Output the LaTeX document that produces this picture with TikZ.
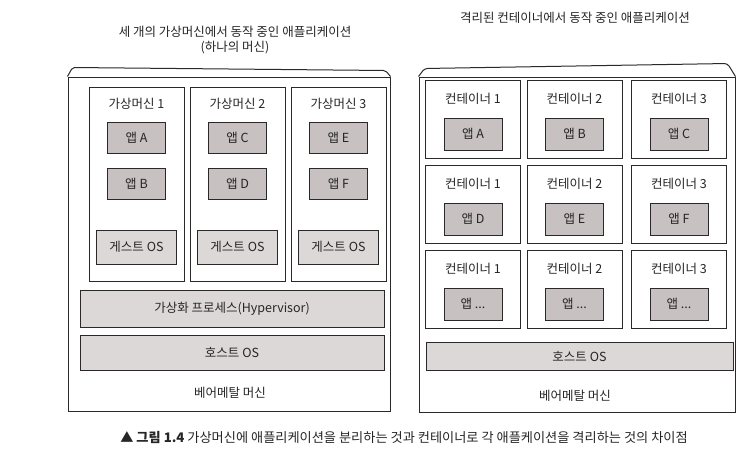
\documentclass[tikz,border=0pt]{standalone}
\usepackage{fontspec}
\setmainfont{Noto Sans CJK KR}
\definecolor{linec}{HTML}{2A2828}
\definecolor{appgray}{HTML}{C7C1C1}
\definecolor{layergray}{HTML}{DCD8D8}
\begin{document}
\begin{tikzpicture}[x=1pt,y=-1pt,
  every node/.style={font=\fontsize{12.5}{14}\selectfont, text=black!85},
  panel/.style={draw=linec, line width=1pt, fill=white, inner sep=0},
  lip/.style={draw=linec, line width=1pt},
  frame/.style={draw=linec, line width=0.9pt, fill=white, inner sep=0},
  app/.style={draw=linec, line width=0.9pt, fill=appgray, inner sep=0, minimum width=58pt, minimum height=31pt},
  layer/.style={draw=linec, line width=0.9pt, fill=layergray, inner sep=0},
  lbl/.style={inner sep=1pt},
  ttl/.style={font=\fontsize{12.5}{14}\selectfont},
  captxt/.style={font=\fontsize{13.2}{15}\selectfont}]
\useasboundingbox (0,0) rectangle (743,461);
\fill[white] (0,0) rectangle (743,461);

% ---------- titles ----------
\node[ttl] (t1a) at (235,32) {세 개의 가상머신에서 동작 중인 애플리케이션};
\node[ttl] (t1b) at (235,48) {(하나의 머신)};
\node[ttl] (t2) at (575,18) {격리된 컨테이너에서 동작 중인 애플리케이션};

% ---------- left panel ----------
\node[panel, minimum width=322pt, minimum height=334pt] (lpanel) at (229,244) {};
\draw[lip, rounded corners=2pt] (lpanel.north west) -- ++(5,-9) -- ([shift={(-5,-6)}]lpanel.north east) -- (lpanel.north east);

\foreach \n/\x in {1/136.5,2/237.5,3/338.5}{
  \node[frame, minimum width=95pt, minimum height=194pt] (vm\n) at (\x,184) {};
  \node[lbl] (vm\n t) at (\x,104) {가상머신 \n};
  \node[layer, minimum width=80pt, minimum height=34pt] (gos\n) at (\x,247) {게스트 OS};
}
\node[app] (appA) at (136.5,138) {앱 A};
\node[app] (appB) at (136.5,184) {앱 B};
\node[app] (appC) at (237.5,138) {앱 C};
\node[app] (appD) at (237.5,184) {앱 D};
\node[app] (appE) at (338.5,138) {앱 E};
\node[app] (appF) at (338.5,184) {앱 F};

\node[layer, minimum width=304pt, minimum height=37pt] (hyper) at (232,308.5) {가상화 프로세스(Hypervisor)};
\node[layer, minimum width=304pt, minimum height=35pt] (hostL) at (232,352.5) {호스트 OS};
\node[lbl] (bareL) at (230,393) {베어메탈 머신};

% ---------- right panel ----------
\node[panel, minimum width=316pt, minimum height=335pt] (rpanel) at (577,244.5) {};
\draw[lip, rounded corners=3pt] (rpanel.north west) -- ++(6,-8) -- ([shift={(-8,-13)}]rpanel.north east) -- (rpanel.north east);

\foreach \r/\y in {1/119,2/204,3/289}{
  \foreach \c/\x in {1/473,2/574.5,3/679}{
    \node[frame, minimum width=95pt, minimum height=78pt] (c\r\c) at (\x,\y) {};
    \node[lbl] (c\r\c t) at (\x,\y-20) {컨테이너 \c};
  }
}
\node[app, minimum height=32pt] (rA) at (473,134) {앱 A};
\node[app, minimum height=32pt] (rB) at (574.5,134) {앱 B};
\node[app, minimum height=32pt] (rC) at (679,134) {앱 C};
\node[app, minimum height=32pt] (rD) at (473,219) {앱 D};
\node[app, minimum height=32pt] (rE) at (574.5,219) {앱 E};
\node[app, minimum height=32pt] (rF) at (679,219) {앱 F};
\node[app, minimum height=32pt] (rG) at (473,304) {앱 ...};
\node[app, minimum height=32pt] (rH) at (574.5,304) {앱 ...};
\node[app, minimum height=32pt] (rI) at (679,304) {앱 ...};

\node[layer, minimum width=307pt, minimum height=28pt] (hostR) at (579.5,356) {호스트 OS};
\node[lbl] (bareR) at (575,396) {베어메탈 머신};

% ---------- caption ----------
\node[captxt] (caption) at (404,437) {▲ \textbf{그림 1.4} 가상머신에 애플리케이션을 분리하는 것과 컨테이너로 각 애플케이션을 격리하는 것의 차이점};
\end{tikzpicture}
\end{document}
